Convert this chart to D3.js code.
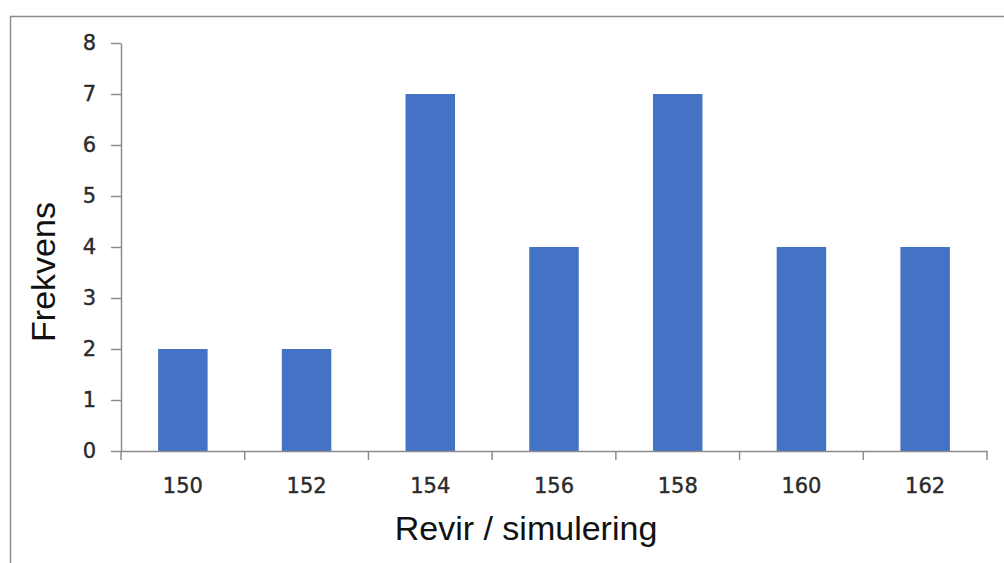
<!DOCTYPE html>
<html>
<head>
<meta charset="utf-8">
<script src="https://cdn.jsdelivr.net/npm/d3@7"></script>
<style>
  body { margin: 0; background: #fff; }
</style>
</head>
<body>
<div id="chart"></div>
<script>
// Data
const categories = ["150", "152", "154", "156", "158", "160", "162"];
const frequencies = [2, 2, 7, 4, 7, 4, 4];
const yTicks = [0, 1, 2, 3, 4, 5, 6, 7, 8];

const width = 1004;
const height = 563;
const margin = { top: 43, right: 17, bottom: 112, left: 121 };

const svg = d3.select("#chart")
    .append("svg")
    .attr("width", width)
    .attr("height", height);

// Outer frame (cropped on right and bottom)
svg.append("path")
    .attr("d", `M10.5,${height + 2} L10.5,16.5 L${width + 2},16.5`)
    .attr("fill", "none")
    .attr("stroke", "#8c8c8c")
    .attr("stroke-width", 1.5);

const x = d3.scaleBand()
    .domain(categories)
    .range([margin.left, width - margin.right])
    .paddingInner(0.6)
    .paddingOuter(0.3);

const xTicks = d3.scaleBand()
    .domain(categories)
    .range([margin.left, width - margin.right]);

const y = d3.scaleLinear()
    .domain([0, 8])
    .range([height - margin.bottom, margin.top]);

// Bars
svg.selectAll("rect.bar")
    .data(frequencies)
    .enter().append("rect")
    .attr("class", "bar")
    .attr("x", (d, i) => x(categories[i]))
    .attr("y", d => y(d))
    .attr("width", x.bandwidth())
    .attr("height", d => y(0) - y(d))
    .attr("fill", "#4472c4");

// Y axis
const yAxis = svg.append("g")
    .attr("transform", `translate(${margin.left},0)`)
    .call(d3.axisLeft(y).tickValues(yTicks).tickSize(10).tickSizeOuter(0).tickPadding(15));

// X axis with tick marks between categories
const xAxis = svg.append("g")
    .attr("transform", `translate(0,${y(0)})`)
    .call(d3.axisBottom(xTicks).tickSize(0).tickSizeOuter(0).tickPadding(27));

const boundaries = categories.map(c => xTicks(c)).concat([xTicks.range()[1]]);
xAxis.selectAll("line.sep")
    .data(boundaries)
    .enter().append("line")
    .attr("class", "sep")
    .attr("x1", d => d)
    .attr("x2", d => d)
    .attr("y1", 0)
    .attr("y2", 9)
    .attr("stroke", "#8c8c8c")
    .attr("stroke-width", 1.5);

[yAxis, xAxis].forEach(g => {
    g.select(".domain").attr("stroke", "#8c8c8c").attr("stroke-width", 1.5);
    g.selectAll(".tick line").attr("stroke", "#8c8c8c").attr("stroke-width", 1.5);
    g.selectAll(".tick text")
        .attr("fill", "#2b2b2b")
        .attr("stroke", "#2b2b2b")
        .attr("stroke-width", 0.4)
        .style("font-family", "'DejaVu Sans', Verdana, sans-serif")
        .style("font-size", "21px");
});

// Axis titles
svg.append("text")
    .attr("transform", `translate(55,272) rotate(-90)`)
    .attr("text-anchor", "middle")
    .style("font-family", "'Liberation Sans', Arial, sans-serif")
    .style("font-size", "34px")
    .attr("fill", "#111")
    .text("Frekvens");

svg.append("text")
    .attr("x", 526)
    .attr("y", 540)
    .attr("text-anchor", "middle")
    .style("font-family", "'Liberation Sans', Arial, sans-serif")
    .style("font-size", "34px")
    .attr("fill", "#111")
    .text("Revir / simulering");
</script>
</body>
</html>
